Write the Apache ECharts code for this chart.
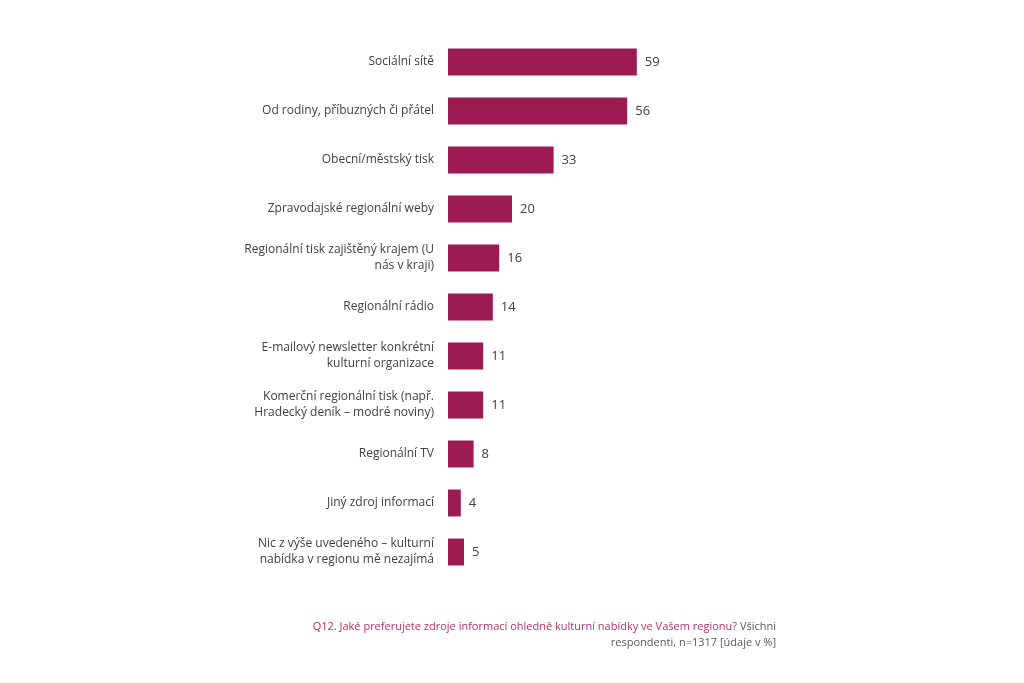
<!DOCTYPE html>
<html><head><meta charset="utf-8">
<script src="https://cdn.jsdelivr.net/npm/echarts@6/dist/echarts.min.js"></script>
<style>html,body{margin:0;padding:0;background:#fff}#c{width:1024px;height:683px}</style>
</head><body><div id="c"></div>
<script>
const categories = [
  "Sociální sítě",
  "Od rodiny, příbuzných či přátel",
  "Obecní/městský tisk",
  "Zpravodajské regionální weby",
  "Regionální tisk zajištěný krajem (U\nnás v kraji)",
  "Regionální rádio",
  "E-mailový newsletter konkrétní\nkulturní organizace",
  "Komerční regionální tisk (např.\nHradecký deník – modré noviny)",
  "Regionální TV",
  "Jiný zdroj informací",
  "Nic z výše uvedeného – kulturní\nnabídka v regionu mě nezajímá"
];
const values = [59, 56, 33, 20, 16, 14, 11, 11, 8, 4, 5];
const footQuestion = "Q12. Jaké preferujete zdroje informací ohledně kulturní nabídky ve Vašem regionu?";
const footNote1 = "Všichni";
const footNote2 = "respondenti, n=1317 [údaje v %]";

const chart = echarts.init(document.getElementById('c'));
const FONT = "'Open Sans', sans-serif";
chart.setOption({
  animation: false,
  grid: { left: 448, top: 37.5, width: 320, height: 539 },
  xAxis: { type: 'value', min: 0, max: 100, show: false },
  yAxis: {
    type: 'category', data: categories, inverse: true,
    axisLine: { show: false }, axisTick: { show: false },
    axisLabel: { margin: 14, color: '#404040', fontSize: 12, fontFamily: FONT, lineHeight: 16, align: 'right' }
  },
  series: [{
    type: 'bar', data: values, barCategoryGap: '45%',
    itemStyle: { color: '#9b1b52' },
    label: { show: true, position: 'right', distance: 8, color: '#404040', fontSize: 13, fontFamily: FONT }
  }],
  graphic: [{
    type: 'text', x: 776, y: 627,
    style: {
      text: '{q|' + footQuestion + '}{n| ' + footNote1 + '}',
      align: 'right', verticalAlign: 'middle', font: '11px ' + FONT,
      rich: { q: { fill: '#b5306a', font: '11px ' + FONT }, n: { fill: '#595959', font: '11px ' + FONT } }
    }
  }, {
    type: 'text', x: 776, y: 643,
    style: { text: footNote2, align: 'right', verticalAlign: 'middle', fill: '#595959', font: '11px ' + FONT }
  }]
});
</script></body></html>
